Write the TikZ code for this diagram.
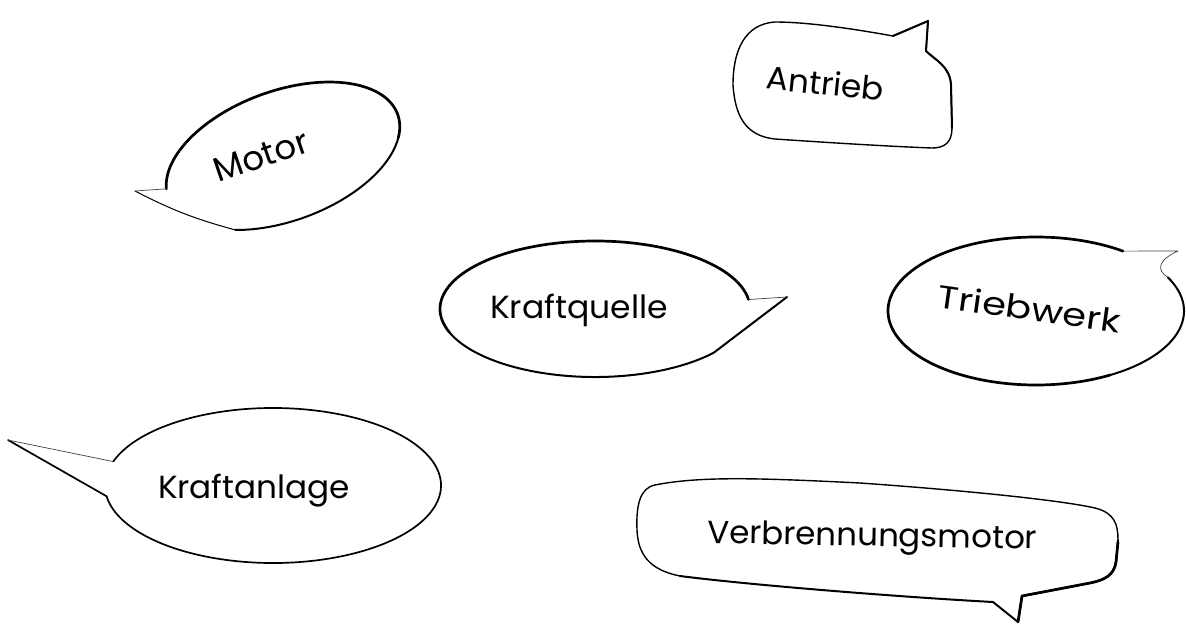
\documentclass[tikz,border=0pt]{standalone}
\usepackage{fontspec}
\setmainfont{Poppins}
\usepackage{graphicx}
\usetikzlibrary{calc}
% stretch a word horizontally to a given width, keeping its height
\newcommand\sizedtext[2]{\resizebox{#1}{\height}{#2}}
\tikzset{
  thinline/.style={line width=1.4pt, line cap=round, line join=round},
  midline/.style={line width=2pt, line cap=round, line join=round},
  heavy/.style={line width=2.7pt, line cap=round, line join=round},
  hair/.style={line width=0.7pt, draw=black!75, line join=round},
  word/.style={font=\fontsize{32}{36}\selectfont, anchor=base, inner sep=0pt},
}
\begin{document}
\begin{tikzpicture}[x=1pt,y=1pt]
\useasboundingbox (0,0) rectangle (1186,-624);

% ---------- Motor: tilted oval, tail to the left ----------
\coordinate (motorc) at (283,-156);
\coordinate (motortip) at (135,-191);
\begin{scope}[shift={(motorc)}, rotate=20]
  \draw[midline] (-20:122 and 65) arc[start angle=-20, end angle=-125, x radius=122, y radius=65];
  \draw[heavy] (172:122 and 65) arc[start angle=172, end angle=-20, x radius=122, y radius=65];
  \draw[thinline, line width=1pt] (-125:122 and 65) to[bend left=6] (motortip);
  \draw[hair] (motortip) -- (172:122 and 65);
\end{scope}
\node[word, rotate=19, font=\fontsize{34}{38}\selectfont] (motor) at (265,-167) {Motor};

% ---------- Antrieb: rounded box, tail up right ----------
\draw[thinline] (733,-85) .. controls (733,-50) and (745,-24) .. (775,-22)
  .. controls (810,-22) and (860,-30) .. (893,-36)
  -- (928,-21) -- (926,-51)
  .. controls (935,-60) and (950,-66) .. (951,-85)
  -- (952,-128)
  .. controls (952,-142) and (945,-148) .. (932,-148)
  .. controls (880,-146) and (820,-142) .. (775,-139)
  .. controls (745,-136) and (735,-115) .. cycle;
\draw[midline] (893,-36) -- (928,-21) -- (926,-51)
  .. controls (935,-60) and (950,-66) .. (951,-85) -- (952,-128);
\node[word, rotate=-6] (antrieb) at (824,-95) {\sizedtext{118pt}{Antrieb}};

% ---------- Kraftquelle: oval, tail to the right ----------
\coordinate (kqc) at (595,-309);
\coordinate (kqtip) at (787,-297);
\begin{scope}[shift={(kqc)}]
  \draw[midline] (200:155 and 68) arc[start angle=200, end angle=320, x radius=155, y radius=68] -- (kqtip);
  \draw[heavy] (8:155 and 68) arc[start angle=8, end angle=200, x radius=155, y radius=68];
  \draw[hair] (kqtip) -- (8:155 and 68);
\end{scope}
\node[word] (kraftquelle) at (579,-318) {\sizedtext{178pt}{Kraftquelle}};

% ---------- Triebwerk: oval, curled tail at upper right ----------
\coordinate (tbc) at (1036,-311);
\coordinate (tbtip) at (1178,-251);
\coordinate (tbk1) at (1156,-270);
\coordinate (tbk2) at (1158,-260);
\begin{scope}[shift={(tbc)}]
  \draw[midline] (300:148 and 74) arc[start angle=300, end angle=387, x radius=148, y radius=74];
  \draw[heavy] (54:148 and 74) arc[start angle=54, end angle=300, x radius=148, y radius=74];
  \draw[hair] (27:148 and 74) .. controls (tbk1) and (tbk2) .. (tbtip) -- (54:148 and 74);
\end{scope}
\node[word, rotate=-8] (triebwerk) at (1028,-320) {\sizedtext{184pt}{Triebwerk}};

% ---------- Kraftanlage: oval, long tail to the left ----------
\coordinate (kac) at (273,-485.5);
\coordinate (katip) at (8,-440);
\begin{scope}[shift={(kac)}]
  \draw[thinline, line width=1.7pt] (162:168 and 77.5) arc[start angle=162, end angle=-172, x radius=168, y radius=77.5] -- (katip);
  \draw[hair] (katip) -- (162:168 and 77.5);
\end{scope}
\node[word] (kraftanlage) at (254,-498) {\sizedtext{192pt}{Kraftanlage}};

% ---------- Verbrennungsmotor: wide rounded box, tail down ----------
\draw[thinline] (655,-485) .. controls (700,-476) and (760,-478) .. (860,-483)
  .. controls (960,-490) and (1060,-500) .. (1095,-508)
  .. controls (1115,-513) and (1118,-525) .. (1118,-540);
\draw[midline] (1118,-540) -- (1116,-562)
  .. controls (1114,-575) and (1105,-580) .. (1090,-583)
  -- (1022,-596) -- (1018,-622) -- (993,-602)
  .. controls (900,-597) and (750,-585) .. (680,-576);
\draw[thinline] (680,-576)
  .. controls (650,-570) and (638,-555) .. (637,-530)
  .. controls (636,-505) and (640,-488) .. (655,-485);
\draw[heavy] (1118,-542) -- (1116,-562)
  .. controls (1114,-575) and (1105,-580) .. (1090,-583)
  -- (1022,-596) -- (1018,-622);
\node[word, rotate=-1] (verbrennung) at (872,-546) {\sizedtext{330pt}{Verbrennungsmotor}};
\end{tikzpicture}
\end{document}
